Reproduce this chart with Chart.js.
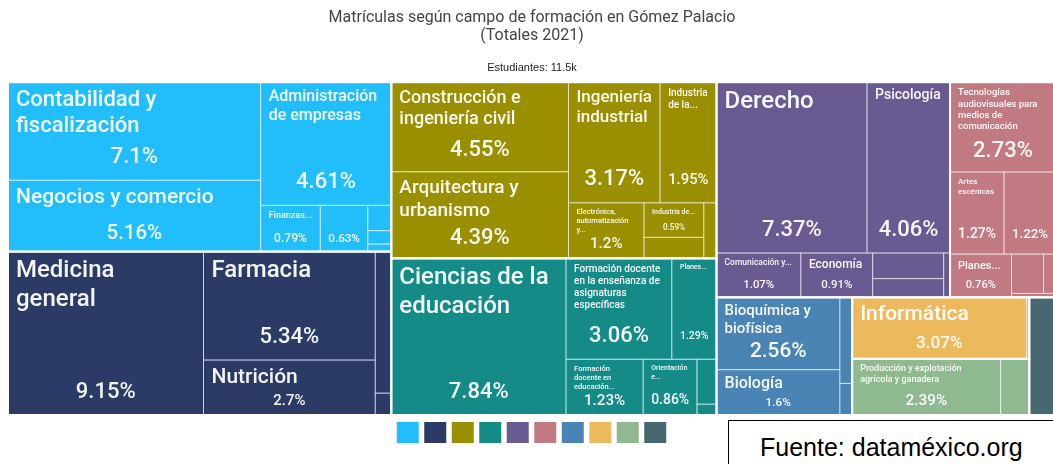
<!DOCTYPE html>
<html lang="es">
<head>
<meta charset="utf-8">
<title>Matrículas según campo de formación en Gómez Palacio</title>
<script src="https://cdn.jsdelivr.net/npm/chart.js@4.4.1/dist/chart.umd.min.js"></script>
<style>
  html, body { margin: 0; padding: 0; background: #fff; overflow: hidden; }
  #wrap { position: relative; width: 1053px; height: 464px; overflow: hidden; }
  #chart { position: absolute; left: 0; top: 0; }
  .fuente {
    position: absolute; left: 728px; top: 420px; width: 340px; height: 60px;
    box-sizing: border-box; border: 1.5px solid #000; background: #fff;
    font-family: "Liberation Sans", Arial, sans-serif; font-size: 25px; line-height: 28px;
    padding: 12px 0 0 31px; color: #000;
  }
</style>
</head>
<body>
<div id="wrap">
  <canvas id="chart" width="1064" height="464"></canvas>
  <div class="fuente">Fuente: dataméxico.org</div>
</div>
<script>
// campos amplios (colores de la leyenda, en orden)
var campos = ['Administración y negocios', 'Ciencias de la salud', 'Ingeniería, manufactura y construcción',
  'Educación', 'Ciencias sociales y derecho', 'Artes y humanidades',
  'Ciencias naturales, matemáticas y estadística', 'Tecnologías de la información y la comunicación',
  'Agronomía y veterinaria', 'Servicios'];
var colores = ['#21BEFB', '#2C3B66', '#9A8F01', '#158B88', '#695A91', '#C27A82', '#4A84B4', '#EDB95D', '#8FBA8F', '#476870'];

// carreras por campo, % del total de estudiantes (celdas sin texto visible quedan sin nombre)
var negociosNombres = ['Contabilidad y fiscalización', 'Negocios y comercio', 'Administración de empresas', 'Finanzas...', '', '', '', ''];
var negociosValores = [7.1, 5.16, 4.61, 0.79, 0.63, 0.17, 0.09, 0.05];
var saludNombres = ['Medicina general', 'Farmacia', 'Nutrición', '', ''];
var saludValores = [9.15, 5.34, 2.7, 0.65, 0.1];
var ingenieriaNombres = ['Construcción e ingeniería civil', 'Arquitectura y urbanismo', 'Ingeniería industrial',
  'Industria de la...', 'Electrónica, automatización y...', 'Industria de...', '', ''];
var ingenieriaValores = [4.55, 4.39, 3.17, 1.95, 1.2, 0.59, 0.36, 0.2];
var educacionNombres = ['Ciencias de la educación', 'Formación docente en la enseñanza de asignaturas específicas',
  'Planes...', 'Formación docente en educación...', 'Orientación e...', '', ''];
var educacionValores = [7.84, 3.06, 1.29, 1.23, 0.86, 0.25, 0.06];
var socialesNombres = ['Derecho', 'Psicología', 'Comunicación y...', 'Economía', '', '', ''];
var socialesValores = [7.37, 4.06, 1.07, 0.91, 0.52, 0.38, 0.08];
var artesNombres = ['Tecnologías audiovisuales para medios de comunicación', 'Artes escénicas', '', 'Planes...', '', '', ''];
var artesValores = [2.73, 1.27, 1.22, 0.76, 0.36, 0.14, 0.05];
var naturalesNombres = ['Bioquímica y biofísica', 'Biología', '', ''];
var naturalesValores = [2.56, 1.6, 0.3, 0.11];
var ticNombres = ['Informática', ''];
var ticValores = [3.07, 0.05];
var agroNombres = ['Producción y explotación agrícola y ganadera', ''];
var agroValores = [2.39, 0.46];
var serviciosNombres = [''];
var serviciosValores = [0.9];

var titulo = ['Matrículas según campo de formación en Gómez Palacio', '(Totales 2021)'];
var subtitulo = 'Estudiantes: 11.5k';

var carreras = [
  [negociosNombres, negociosValores], [saludNombres, saludValores], [ingenieriaNombres, ingenieriaValores],
  [educacionNombres, educacionValores], [socialesNombres, socialesValores], [artesNombres, artesValores],
  [naturalesNombres, naturalesValores], [ticNombres, ticValores], [agroNombres, agroValores],
  [serviciosNombres, serviciosValores]
];

// espacio lógico del treemap sobre las escalas
var ANCHO = 286, ALTO = 100, RATIO = 1.8;
var FONT = 'Roboto, "Open Sans", sans-serif';
var PESO = '500 ';

function suma(arr) { return arr.reduce(function (a, b) { return a + b; }, 0); }

// squarify (estilo d3)
function squarify(nodes, x0, y0, x1, y1) {
  nodes = nodes.slice().sort(function (a, b) { return b.value - a.value; });
  var out = [], value = suma(nodes.map(function (d) { return d.value; }));
  var i0 = 0, i1 = 0, n = nodes.length;
  while (i0 < n) {
    var dx = x1 - x0, dy = y1 - y0, sumValue, nv;
    do sumValue = nodes[i1++].value; while (!sumValue && i1 < n);
    var minV = sumValue, maxV = sumValue;
    var alpha = Math.max(dy / dx, dx / dy) / (value * RATIO);
    var beta = sumValue * sumValue * alpha;
    var minRatio = Math.max(maxV / beta, beta / minV);
    for (; i1 < n; ++i1) {
      nv = nodes[i1].value;
      sumValue += nv;
      if (nv < minV) minV = nv;
      if (nv > maxV) maxV = nv;
      beta = sumValue * sumValue * alpha;
      var newRatio = Math.max(maxV / beta, beta / minV);
      if (newRatio > minRatio) { sumValue -= nv; break; }
      minRatio = newRatio;
    }
    var row = nodes.slice(i0, i1);
    if (dx < dy) {
      var yb = value ? y0 + dy * sumValue / value : y1, x = x0;
      row.forEach(function (d) {
        var w = (x1 - x0) * d.value / sumValue;
        out.push({ node: d, x0: x, y0: y0, x1: x + w, y1: yb });
        x += w;
      });
      y0 = yb;
    } else {
      var xb = value ? x0 + dx * sumValue / value : x1, y = y0;
      row.forEach(function (d) {
        var h = (y1 - y0) * d.value / sumValue;
        out.push({ node: d, x0: x0, y0: y, x1: xb, y1: y + h });
        y += h;
      });
      x0 = xb;
    }
    value -= sumValue;
    i0 = i1;
  }
  return out;
}

function partirLineas(ctx, text, maxW) {
  var words = text.split(' '), lines = [], line = '';
  for (var i = 0; i < words.length; i++) {
    var test = line ? line + ' ' + words[i] : words[i];
    if (line && ctx.measureText(test).width > maxW) { lines.push(line); line = words[i]; }
    else line = test;
  }
  if (line) lines.push(line);
  return lines;
}

function ajustarNombre(ctx, text, w, h) {
  var fMax = 24, fMin = 6, lh = 1.2;
  if (!text || w < 10 || h < fMin * lh) return null;
  ctx.font = PESO + fMax + 'px ' + FONT;
  var widths = text.split(' ').map(function (t) { return ctx.measureText(t).width; });
  var maxWord = Math.max.apply(null, widths);
  var textArea = suma(widths) * fMax * lh * (1.165 + w / h * 0.1);
  var fs = fMax;
  if (maxWord > w || textArea > w * h) fs = Math.floor(fMax * Math.min(Math.sqrt(w * h / textArea), w / maxWord));
  fs = Math.min(fs, Math.floor(h * 0.8));
  var lines;
  for (; fs >= fMin; fs -= 0.5) {
    ctx.font = PESO + fs + 'px ' + FONT;
    lines = partirLineas(ctx, text, w);
    var cabe = lines.every(function (l) { return ctx.measureText(l).width <= w; });
    if (cabe && lines.length * fs * lh <= h) return { size: fs, lines: lines };
  }
  fs = fMin;
  ctx.font = PESO + fs + 'px ' + FONT;
  lines = partirLineas(ctx, text, w);
  var max = Math.floor(h / (fs * lh));
  if (max < 1) return null;
  if (lines.length > max) {
    lines = lines.slice(0, max);
    var last = lines[max - 1];
    while (last && ctx.measureText(last + '...').width > w) last = last.split(' ').slice(0, -1).join(' ');
    if (!last) { lines.pop(); if (!lines.length) return null; } else lines[max - 1] = last + '...';
  }
  if (ctx.measureText(lines[0]).width > w) return null;
  return { size: fs, lines: lines };
}

function ajustarPct(ctx, text, w, h) {
  var fs = Math.min(22, h / 1.2);
  ctx.font = PESO + fs + 'px ' + FONT;
  var tw = ctx.measureText(text).width;
  if (tw > w) fs = fs * w / tw;
  return fs < 6.5 ? null : fs;
}

var treemapPlugin = {
  id: 'treemap',
  afterDatasetsDraw: function (chart) {
    var ctx = chart.ctx, sx = chart.scales.x, sy = chart.scales.y;
    var grupos = campos.map(function (c, i) {
      return { value: suma(carreras[i][1]), index: i };
    });
    var celdasGrupo = squarify(grupos, 0, 0, ANCHO, ALTO);
    var celdas = [];
    celdasGrupo.forEach(function (g) {
      var gi = g.node.index;
      var hijos = carreras[gi][1].map(function (v, k) { return { value: v, name: carreras[gi][0][k] }; });
      squarify(hijos, g.x0, g.y0, g.x1, g.y1).forEach(function (c) {
        celdas.push({
          color: colores[gi], name: c.node.name, value: c.node.value,
          x0: sx.getPixelForValue(c.x0), x1: sx.getPixelForValue(c.x1),
          y0: sy.getPixelForValue(c.y0), y1: sy.getPixelForValue(c.y1)
        });
      });
      g.px = [sx.getPixelForValue(g.x0), sy.getPixelForValue(g.y0), sx.getPixelForValue(g.x1), sy.getPixelForValue(g.y1)];
    });

    ctx.save();
    celdas.forEach(function (c) {
      ctx.fillStyle = c.color;
      ctx.fillRect(c.x0, c.y0, c.x1 - c.x0, c.y1 - c.y0);
      ctx.strokeStyle = 'rgba(255,255,255,0.6)';
      ctx.lineWidth = 1;
      ctx.strokeRect(c.x0, c.y0, c.x1 - c.x0, c.y1 - c.y0);
    });
    ctx.strokeStyle = '#fff';
    ctx.lineWidth = 2;
    celdasGrupo.forEach(function (g) {
      ctx.strokeRect(g.px[0], g.px[1], g.px[2] - g.px[0], g.px[3] - g.px[1]);
    });

    // etiquetas
    var padX = 8, padY = 5;
    ctx.fillStyle = 'rgba(255,255,255,0.95)';
    ctx.textBaseline = 'middle';
    celdas.forEach(function (c) {
      var w = c.x1 - c.x0, h = c.y1 - c.y0, innerW = w - 2 * padX;
      var sh = Math.min(36, (h - 2 * padY) * 0.4);
      if (sh < 9) sh = 0;
      var pct = c.value + '%';
      if (sh > 0 && innerW > 0) {
        var fsP = ajustarPct(ctx, pct, innerW, sh);
        if (fsP) {
          ctx.font = PESO + fsP + 'px ' + FONT;
          ctx.textAlign = 'center';
          ctx.fillText(pct, (c.x0 + c.x1) / 2, c.y1 - padY - sh / 2);
        }
      }
      var nom = ajustarNombre(ctx, c.name, innerW, h - 2 * padY - sh);
      if (nom) {
        ctx.font = PESO + nom.size + 'px ' + FONT;
        ctx.textAlign = 'left';
        nom.lines.forEach(function (l, i) {
          ctx.fillText(l, c.x0 + padX, c.y0 + padY + (i + 0.5) * nom.size * 1.2);
        });
      }
    });
    ctx.restore();
  }
};

new Chart(document.getElementById('chart'), {
  type: 'scatter',
  data: { datasets: [] },
  options: {
    responsive: false,
    animation: false,
    events: [],
    layout: { padding: { left: 8, right: 8, top: 0, bottom: 11 } },
    scales: {
      x: { type: 'linear', min: 0, max: ANCHO, display: false },
      y: { type: 'linear', min: 0, max: 100.75, reverse: true, display: false }
    },
    plugins: {
      title: {
        display: true, text: titulo, color: '#444',
        font: { family: FONT, size: 16, weight: 'normal', lineHeight: 1.125 },
        padding: { top: 9, bottom: 10 }
      },
      subtitle: {
        display: true, text: subtitulo, color: '#222',
        font: { family: '"Liberation Sans", Arial, sans-serif', size: 11, weight: 'normal' },
        padding: { top: 6, bottom: 8 }
      },
      legend: {
        display: true, position: 'bottom', align: 'center',
        labels: {
          boxWidth: 22, boxHeight: 21, padding: 4.5, font: { size: 2 },
          generateLabels: function () {
            return campos.map(function (c, i) {
              return { text: '', fillStyle: colores[i], strokeStyle: colores[i], lineWidth: 0, hidden: false, datasetIndex: i };
            });
          }
        }
      },
      tooltip: { enabled: false }
    }
  },
  plugins: [treemapPlugin]
});
</script>
</body>
</html>
